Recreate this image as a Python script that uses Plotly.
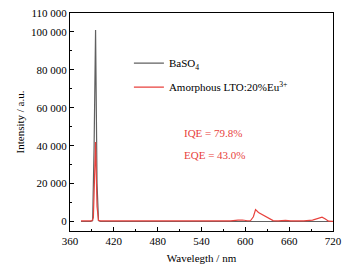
import plotly.graph_objects as go

# Data
wl_baso4 = [375, 388, 391, 393, 395, 397, 399, 402, 450, 500, 550, 600, 650, 700, 720]
int_baso4 = [0, 0, 500, 40000, 101000, 20000, 500, 0, 0, 0, 0, 0, 0, 0, 0]

wl_lto = [375, 390, 392, 394, 395, 396, 397, 399, 401, 450, 500, 550, 580, 590, 596, 603, 607, 611, 614, 618, 624, 630, 638, 645, 655, 662, 680, 692, 700, 705, 709, 714, 720]
int_lto = [300, 300, 2000, 30000, 42000, 25000, 8000, 600, 300, 300, 300, 300, 300, 700, 800, 400, 400, 2500, 6300, 4800, 3500, 2200, 500, 300, 600, 300, 300, 700, 1500, 2300, 1500, 200, 100]

x_ticks = [360, 420, 480, 540, 600, 660, 720]
x_minor = [390, 450, 510, 570, 630, 690]
y_ticks = [0, 20000, 40000, 60000, 80000, 100000, 110000]
y_ticktext = ["0", "20 000", "40 000", "60 000", "80 000", "100 000", "110 000"]
y_minor = [10000, 30000, 50000, 70000, 90000]

font_family = "Liberation Serif"

fig = go.Figure()
fig.add_trace(go.Scatter(x=wl_baso4, y=int_baso4, mode="lines", name="BaSO<sub>4</sub>",
                         legendgroup="a", line=dict(color="#606060", width=1.2)))
fig.add_trace(go.Scatter(x=wl_lto, y=int_lto, mode="lines", name="Amorphous LTO:20%Eu<sup>3+</sup>",
                         legendgroup="b", line=dict(color="#e8413c", width=1.2)))

axis_common = dict(showline=True, linecolor="black", linewidth=1, mirror=True, automargin=False,
                   ticks="inside", ticklen=4, tickcolor="black", showgrid=False, zeroline=False,
                   tickfont=dict(family=font_family, size=11, color="black"))

fig.update_xaxes(range=[360, 720], tickvals=x_ticks,
                 minor=dict(tickvals=x_minor, ticks="inside", ticklen=2, tickcolor="black"),
                 title=dict(text="Wavelegth / nm", font=dict(family=font_family, size=11, color="black"), standoff=8),
                 **axis_common)
fig.update_yaxes(range=[-5000, 110000], tickvals=y_ticks, ticktext=y_ticktext,
                 minor=dict(tickvals=y_minor, ticks="inside", ticklen=2, tickcolor="black"),
                 title=dict(text="Intensity / a.u.", font=dict(family=font_family, size=11, color="black"), standoff=4),
                 **axis_common)

fig.add_annotation(x=0.425, y=0.45, xref="paper", yref="paper", text="IQE = 79.8%", showarrow=False,
                   xanchor="left", font=dict(family=font_family, size=11, color="#e8413c"))
fig.add_annotation(x=0.425, y=0.35, xref="paper", yref="paper", text="EQE = 43.0%", showarrow=False,
                   xanchor="left", font=dict(family=font_family, size=11, color="#e8413c"))

fig.update_layout(width=354, height=268, margin=dict(l=70, r=21, t=13, b=37),
                  paper_bgcolor="white", plot_bgcolor="white",
                  font=dict(family=font_family, size=11, color="black"),
                  legend=dict(x=0.224, y=0.837, xanchor="left", yanchor="top", bgcolor="rgba(0,0,0,0)",
                              traceorder="grouped", tracegroupgap=5,
                              font=dict(family=font_family, size=11, color="black")))

fig.write_html("out.html", post_script="document.body.style.margin='0';",
               config={"displayModeBar": False})
